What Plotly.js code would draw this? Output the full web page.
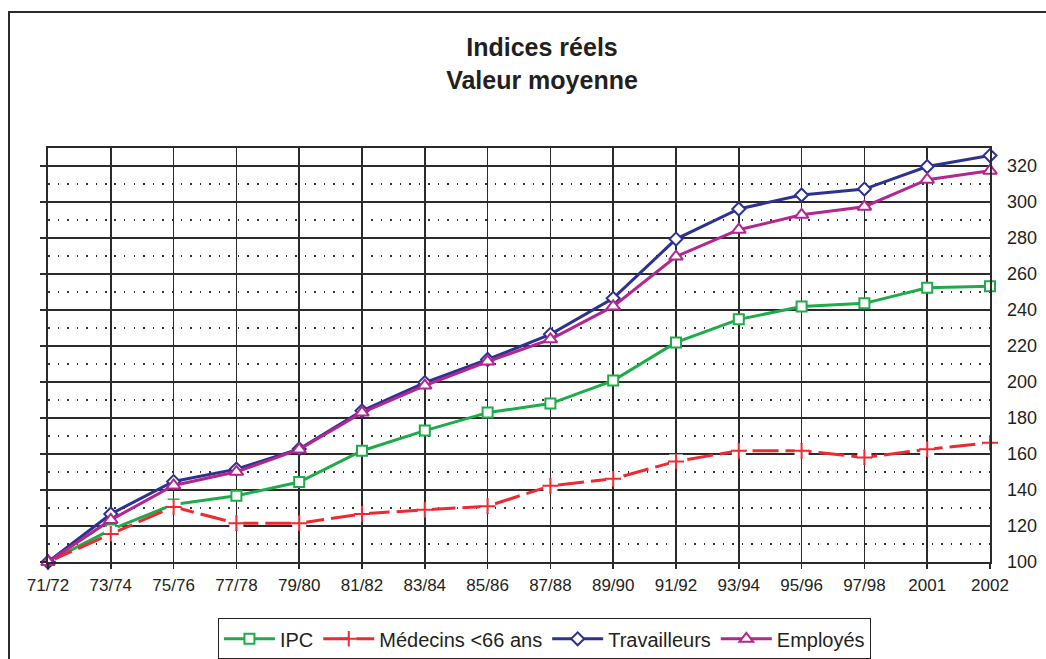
<!DOCTYPE html>
<html>
<head>
<meta charset="utf-8">
<script src="https://cdn.plot.ly/plotly-3.0.1.min.js"></script>
<style>
  html, body { margin: 0; padding: 0; background: #fff; }
  #chart { width: 1046px; height: 659px; position: absolute; left: 0; top: 0; }
  #frame { position: absolute; left: 8px; top: 11px; width: 1100px; height: 700px;
           border-left: 2px solid #2b2b2b; border-top: 2px solid #2b2b2b; pointer-events: none; }
</style>
</head>
<body>
<div id="chart"></div>
<div id="frame"></div>
<script>
const categories = ["71/72","73/74","75/76","77/78","79/80","81/82","83/84","85/86","87/88","89/90","91/92","93/94","95/96","97/98","2001","2002"];
const ipc          = [100, 118, 132, 136.8, 144.4, 161.8, 173, 183, 188, 200.8, 222, 234.8, 241.9, 243.7, 252.3, 253.2];
const medecins     = [100, 115.6, 130.6, 121.5, 121.5, 126.7, 129, 131, 142.3, 146.2, 155.9, 161.8, 161.8, 158.1, 162.6, 166.3];
const travailleurs = [100, 126.7, 144.7, 151.6, 162.8, 184, 199.7, 212.5, 226.5, 246.5, 279.4, 296.1, 303.9, 307.2, 319.7, 325.8];
const employes     = [100, 123.4, 142.5, 150.1, 162.5, 183, 198, 211.4, 223.7, 242, 269.7, 284.6, 292.9, 297.4, 312.4, 317.4];

const GREEN = '#1eac4b', RED = '#ee2a30', BLUE = '#2e3192', MAG = '#b3268f';
const FONT = 'Liberation Sans, Arial, Helvetica, sans-serif';

const traces = [
  { x: categories, y: ipc, name: 'IPC', type: 'scatter', mode: 'lines+markers', cliponaxis: false,
    line: { color: GREEN, width: 3 },
    marker: { symbol: 'square', size: 10, color: '#fff', line: { color: GREEN, width: 2 } } },
  { x: categories, y: medecins, name: 'Médecins <66 ans', type: 'scatter', mode: 'lines+markers', cliponaxis: false,
    legendgroup: 'med',
    line: { color: RED, width: 3, dash: '26px,7px' },
    marker: { symbol: 'cross-thin', size: 11, color: RED, line: { color: RED, width: 2 } } },
  { x: categories, y: medecins, name: 'halo', type: 'scatter', mode: 'markers', cliponaxis: false,
    showlegend: false, legendgroup: 'med', hoverinfo: 'skip',
    marker: { symbol: 'square', size: 14, color: '#fff', line: { width: 0 } } },
  { x: categories, y: medecins, name: 'Médecins <66 ans', type: 'scatter', mode: 'markers', cliponaxis: false,
    showlegend: false, legendgroup: 'med',
    marker: { symbol: 'cross-thin', size: 11, color: RED, line: { color: RED, width: 2 } } },
  { x: categories, y: travailleurs, name: 'Travailleurs', type: 'scatter', mode: 'lines+markers', cliponaxis: false,
    line: { color: BLUE, width: 3 },
    marker: { symbol: 'diamond', size: 10, color: '#fff', line: { color: BLUE, width: 2 } } },
  { x: categories, y: employes, name: 'Employés', type: 'scatter', mode: 'lines+markers', cliponaxis: false,
    line: { color: MAG, width: 3 },
    marker: { symbol: 'triangle-up', size: 12, color: '#fff', line: { color: MAG, width: 2 } } },
  // carrier for the right-hand value axis labels (invisible)
  { x: categories, y: employes, yaxis: 'y2', type: 'scatter', mode: 'lines', showlegend: false,
    hoverinfo: 'skip', opacity: 0, line: { width: 0 } }
];

const layout = {
  width: 1046, height: 659,
  margin: { l: 48, r: 56, t: 148, b: 97, pad: 0, autoexpand: false },
  paper_bgcolor: 'rgba(0,0,0,0)', plot_bgcolor: '#fff',
  font: { family: FONT, color: '#231f20', size: 17 },
  title: { text: '<b>Indices réels<br>Valeur moyenne</b>', font: { family: FONT, size: 25, color: '#231f20' },
           x: 542/1046, xref: 'container', xanchor: 'center', y: 1 - 56/659, yref: 'container', yanchor: 'top' },
  showlegend: true,
  legend: { orientation: 'h', x: 0.527, xanchor: 'center', y: -0.136, yanchor: 'top',
            bordercolor: '#231f20', borderwidth: 1, bgcolor: '#fff', itemwidth: 51,
            font: { family: FONT, size: 20, color: '#231f20' }, traceorder: 'normal' },
  xaxis: { type: 'category', range: [0, 15], showgrid: true, gridcolor: '#2a2a2a', gridwidth: 1.5,
           showline: true, mirror: true, linecolor: '#2a2a2a', linewidth: 2,
           ticks: 'outside', ticklen: 5, tickwidth: 1.5, tickcolor: '#2a2a2a',
           tickfont: { family: FONT, size: 17, color: '#231f20' }, ticklabelstandoff: 2,
           zeroline: false, fixedrange: true },
  yaxis: { range: [100, 330], tick0: 100, dtick: 20, side: 'left', showticklabels: false,
           showgrid: true, gridcolor: '#2a2a2a', gridwidth: 1.5,
           minor: { tick0: 110, dtick: 20, showgrid: true, gridcolor: '#333', gridwidth: 1.5, griddash: '1.5px,8px', ticks: '' },
           showline: true, mirror: true, linecolor: '#2a2a2a', linewidth: 2,
           ticks: 'outside', ticklen: 6, tickwidth: 1.5, tickcolor: '#2a2a2a',
           zeroline: false, fixedrange: true },
  yaxis2: { overlaying: 'y', side: 'right', anchor: 'x', range: [100, 330], tick0: 100, dtick: 20,
            showgrid: false, zeroline: false, showline: false, ticks: '', ticklabelstandoff: 16,
            tickfont: { family: FONT, size: 18, color: '#231f20' }, fixedrange: true }
};

Plotly.newPlot('chart', traces, layout, { displayModeBar: false, staticPlot: true });
</script>
</body>
</html>
